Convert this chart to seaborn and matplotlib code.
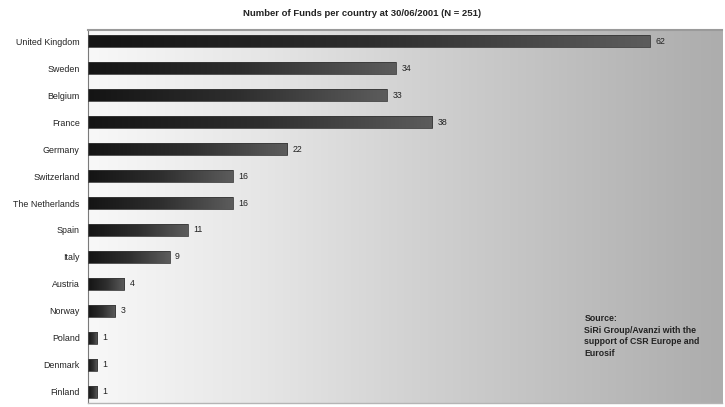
import numpy as np
import pandas as pd
import matplotlib
matplotlib.use("Agg")
import matplotlib.pyplot as plt
from matplotlib.colors import LinearSegmentedColormap
import seaborn as sns

countries = ["United Kingdom", "Sweden", "Belgium", "France", "Germany",
             "Switzerland", "The Netherlands", "Spain", "Italy", "Austria",
             "Norway", "Poland", "Denmark", "Finland"]
funds = [62, 34, 33, 38, 22, 16, 16, 11, 9, 4, 3, 1, 1, 1]

title = "Number of Funds per country at 30/06/2001 (N = 251)"
source_text = "Source:\nSiRi Group/Avanzi with the\nsupport of CSR Europe and\nEurosif"

df = pd.DataFrame({"country": countries, "funds": funds})

sns.set_theme(style="white")
plt.rcParams["font.family"] = ["Liberation Sans", "DejaVu Sans"]

fig = plt.figure(figsize=(7.25, 4.07), dpi=100)
fig.patch.set_facecolor("white")
ax = fig.add_axes([0.1214, 0.0098, 0.8745, 0.9165])

sns.barplot(data=df, y="country", x="funds", orient="h", ax=ax,
            color="#333333", width=0.46, saturation=1)

XLIM = (0, 70)
YLIM = (13.41, -0.41)

# Background: horizontal light-to-grey gradient across the plotting area
bg_cmap = LinearSegmentedColormap.from_list(
    "bg", [(0.0, "#f8f8f8"), (0.27, "#e6e6e6"), (0.51, "#d2d2d2"),
           (0.95, "#b0b0b0"), (1.0, "#adadad")])
grad = np.linspace(0, 1, 256).reshape(1, -1)
ax.imshow(grad, cmap=bg_cmap, aspect="auto", extent=[0, 1, 0, 1],
          transform=ax.transAxes, zorder=0, interpolation="bicubic")

# Each bar shaded with its own dark-to-grey gradient
bar_cmap = LinearSegmentedColormap.from_list("bar", ["#141414", "#2e2e2e", "#5c5c5c"])
for patch, val in zip(ax.patches, funds):
    x0, y0 = patch.get_x(), patch.get_y()
    w, h = patch.get_width(), patch.get_height()
    patch.set_facecolor("none")
    patch.set_edgecolor("#3a3a3a")
    patch.set_linewidth(0.6)
    patch.set_zorder(3)
    img = ax.imshow(grad, cmap=bar_cmap, aspect="auto",
                    extent=[x0, x0 + w, y0 + h, y0], zorder=2,
                    interpolation="bicubic")
    img.set_clip_path(patch)
    ax.text(x0 + w + 0.6, y0 + h / 2, f"{val}", va="center", ha="left",
            fontsize=6.3, color="#222222", zorder=4)

ax.set_xlim(*XLIM)
ax.set_ylim(*YLIM)

ax.set_xlabel("")
ax.set_ylabel("")
ax.set_xticks([])
ax.tick_params(axis="y", length=0, pad=6, labelsize=6.4, labelcolor="#222222")

ax.spines["right"].set_visible(False)
ax.spines["left"].set_color("#7a7a7a")
ax.spines["left"].set_linewidth(0.8)
ax.spines["top"].set_color("#9a9a9a")
ax.spines["top"].set_linewidth(1.5)
ax.spines["bottom"].set_color("#b5b5b5")
ax.spines["bottom"].set_linewidth(1.0)

fig.text(0.50, 0.968, title, ha="center", va="center", fontsize=6.8,
         fontweight="bold", color="#222222")

ax.text(0.783, 0.238, source_text, transform=ax.transAxes, ha="left", va="top",
        fontsize=6.3, fontweight="bold", color="#222222", linespacing=1.35, zorder=5)

fig.savefig("out.png", dpi=100)
